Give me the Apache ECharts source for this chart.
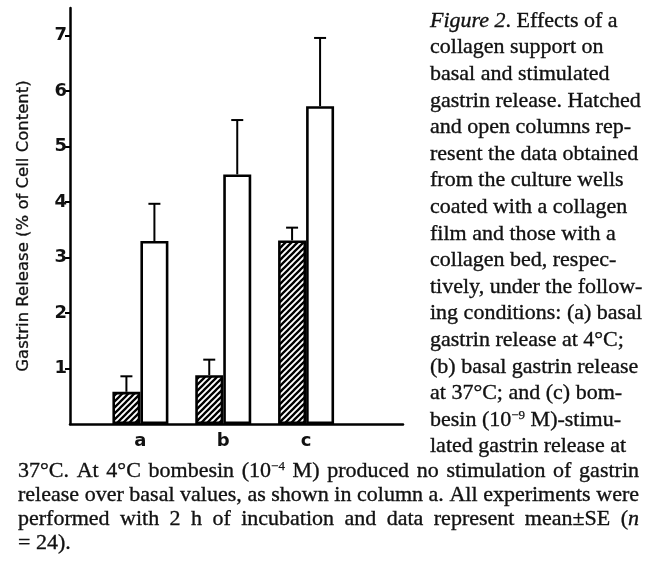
<!DOCTYPE html>
<html><head><meta charset="utf-8">
<script src="https://cdn.jsdelivr.net/npm/echarts@6/dist/echarts.min.js"></script>
<style>html,body{margin:0;padding:0;background:#fff}#c{width:658px;height:562px}</style>
</head><body><div id="c"></div>
<script>
// ---- data ----
const categories = ['a', 'b', 'c'];
const catPos = [1, 2, 3];
const filmMeans = [0.58, 0.88, 3.31];   // hatched columns: collagen film
const filmSE    = [0.28, 0.28, 0.23];
const bedMeans  = [3.30, 4.50, 5.73];   // open columns: collagen bed
const bedSE     = [0.67, 0.98, 1.23];
const yTicks = [1, 2, 3, 4, 5, 6, 7];
const yTitleMain = 'Gastrin Release';
const yTitleSub = '(% of Cell Content)';
const captionRight = [
  '{i|Figure} {i|2}. Effects of a',
  'collagen support on',
  'basal and stimulated',
  'gastrin release. Hatched',
  'and open columns rep-',
  'resent the data obtained',
  'from the culture wells',
  'coated with a collagen',
  'film and those with a',
  'collagen bed, respec-',
  'tively, under the follow-',
  'ing conditions: (a) basal',
  'gastrin release at 4°C;',
  '(b) basal gastrin release',
  'at 37°C; and (c) bom-',
  'besin (10{s|−9} M)-stimu-',
  'lated gastrin release at'
];
const captionBottom = [
  '37°C. At 4°C bombesin (10{s|−4} M) produced no stimulation of gastrin',
  'release over basal values, as shown in column a. All experiments were',
  'performed with 2 h of incubation and data represent mean±SE ({i|n}',
  '= 24).'
];

// ---- styles ----
const BW = 28;
const SERIF = '"Liberation Serif"';
const SANS = '"DejaVu Sans"';
const FS = 22;
const INK = '#111';
const richStyles = {
  n: {font: FS + 'px ' + SERIF, fill: INK, stroke: INK, lineWidth: 0.35},
  i: {font: 'italic ' + FS + 'px ' + SERIF, fill: INK, stroke: INK, lineWidth: 0.35},
  s: {font: '13px ' + SERIF, fill: INK, verticalAlign: 'top', stroke: INK, lineWidth: 0.25}
};

function hatchPattern() {
  const s = 6;
  const c = document.createElement('canvas');
  c.width = s; c.height = s;
  const g = c.getContext('2d');
  g.fillStyle = '#fff'; g.fillRect(0, 0, s, s);
  g.strokeStyle = '#000'; g.lineWidth = 2.3;
  g.beginPath();
  g.moveTo(-1, s + 1); g.lineTo(s + 1, -1);
  g.moveTo(-2, 2); g.lineTo(2, -2);
  g.moveTo(s - 2, s + 2); g.lineTo(s + 2, s - 2);
  g.stroke();
  return c;
}

// text measurement for justification
const mctx = document.createElement('canvas').getContext('2d');
function measure(str) {
  let w = 0;
  const re = /\{(\w+)\|([^}]*)\}|([^{]+)/g;
  let m;
  while ((m = re.exec(str))) {
    if (m[1]) { mctx.font = richStyles[m[1]].font; w += mctx.measureText(m[2]).width; }
    else { mctx.font = richStyles.n.font; w += mctx.measureText(m[3]).width; }
  }
  return w;
}
function toRich(str) {
  return str.replace(/\{(\w+)\|([^}]*)\}|([^{]+)/g, (all, k, t, p) => k ? all : '{n|' + p + '}');
}
function textEl(str, x, baseline) {
  return {
    type: 'text', x: x, y: baseline - 6.5, silent: true,
    style: {text: toRich(str), rich: richStyles, align: 'left', verticalAlign: 'middle',
            font: FS + 'px ' + SERIF, fill: INK}
  };
}

const graphics = [];
captionRight.forEach((line, i) => graphics.push(textEl(line, 430, 27.5 + 26.6 * i)));
const bottomLeft = 18, bottomWidth = 621;
captionBottom.forEach((line, i) => {
  const base = 478 + 24 * i;
  if (i === captionBottom.length - 1) { graphics.push(textEl(line, bottomLeft, base)); return; }
  const words = line.split(' ');
  const widths = words.map(measure);
  const total = widths.reduce((a, b) => a + b, 0);
  const gap = (bottomWidth - total) / (words.length - 1);
  let x = bottomLeft;
  words.forEach((w, j) => { graphics.push(textEl(w, x, base)); x += widths[j] + gap; });
});
graphics.push({
  type: 'text', x: 24, y: 226, rotation: Math.PI / 2, silent: true,
  style: {
    text: '{m|' + yTitleMain + '} {m|' + yTitleSub + '}',
    rich: {m: {font: '16.5px ' + SANS, fill: INK, stroke: INK, lineWidth: 0.3}},
    align: 'center', verticalAlign: 'middle', font: '16.5px ' + SANS, fill: INK
  }
});

// error bar data: [x, mean, mean+SE, side]
const errData = [];
catPos.forEach((x, i) => {
  errData.push([x, filmMeans[i], filmMeans[i] + filmSE[i], -1]);
  errData.push([x, bedMeans[i], bedMeans[i] + bedSE[i], 1]);
});

const chart = echarts.init(document.getElementById('c'), null, {renderer: 'canvas', width: 658, height: 562});
chart.setOption({
  animation: false,
  backgroundColor: '#fff',
  grid: {left: 70, right: 255, top: 8, bottom: 138, containLabel: false},
  xAxis: {
    type: 'value', min: 0.15, max: 4.17,
    splitLine: {show: false},
    axisLine: {show: true, onZero: false, lineStyle: {color: '#000', width: 2.5}},
    axisTick: {show: false},
    axisLabel: {
      customValues: catPos, margin: 8, fontSize: 18, fontWeight: 'bold', fontFamily: 'DejaVu Sans', color: INK,
      formatter: v => categories[catPos.indexOf(v)]
    }
  },
  yAxis: {
    type: 'value', min: 0, max: 7.5,
    splitLine: {show: false},
    axisLine: {show: true, lineStyle: {color: '#000', width: 2.5}},
    axisTick: {show: true, customValues: yTicks, length: 5, lineStyle: {color: '#000', width: 2}},
    axisLabel: {customValues: yTicks, margin: 3, fontSize: 18, fontWeight: 'bold', fontFamily: 'DejaVu Sans', color: INK}
  },
  series: [
    {
      name: 'Collagen film', type: 'bar', barWidth: BW, barGap: '0%',
      data: catPos.map((x, i) => [x, filmMeans[i]]),
      itemStyle: {color: {image: hatchPattern(), repeat: 'repeat'}, borderColor: '#000', borderWidth: 2.6},
      silent: true
    },
    {
      name: 'Collagen bed', type: 'bar', barWidth: BW, barGap: '0%',
      data: catPos.map((x, i) => [x, bedMeans[i]]),
      itemStyle: {color: '#fff', borderColor: '#000', borderWidth: 2.6},
      silent: true
    },
    {
      type: 'custom', z: 5, silent: true,
      encode: {x: 0, y: [1, 2]},
      data: errData,
      renderItem: function (params, api) {
        const x = api.value(0), lo = api.value(1), hi = api.value(2), side = api.value(3);
        const p0 = api.coord([x, lo]), p1 = api.coord([x, hi]);
        const cx = p0[0] + side * BW / 2;
        const cap = 6;
        return {type: 'group', children: [
          {type: 'line', shape: {x1: cx, y1: p0[1], x2: cx, y2: p1[1]}, style: {stroke: '#000', lineWidth: 2}},
          {type: 'line', shape: {x1: cx - cap, y1: p1[1], x2: cx + cap, y2: p1[1]}, style: {stroke: '#000', lineWidth: 2}}
        ]};
      }
    }
  ],
  graphic: graphics
});
</script>
</body></html>
